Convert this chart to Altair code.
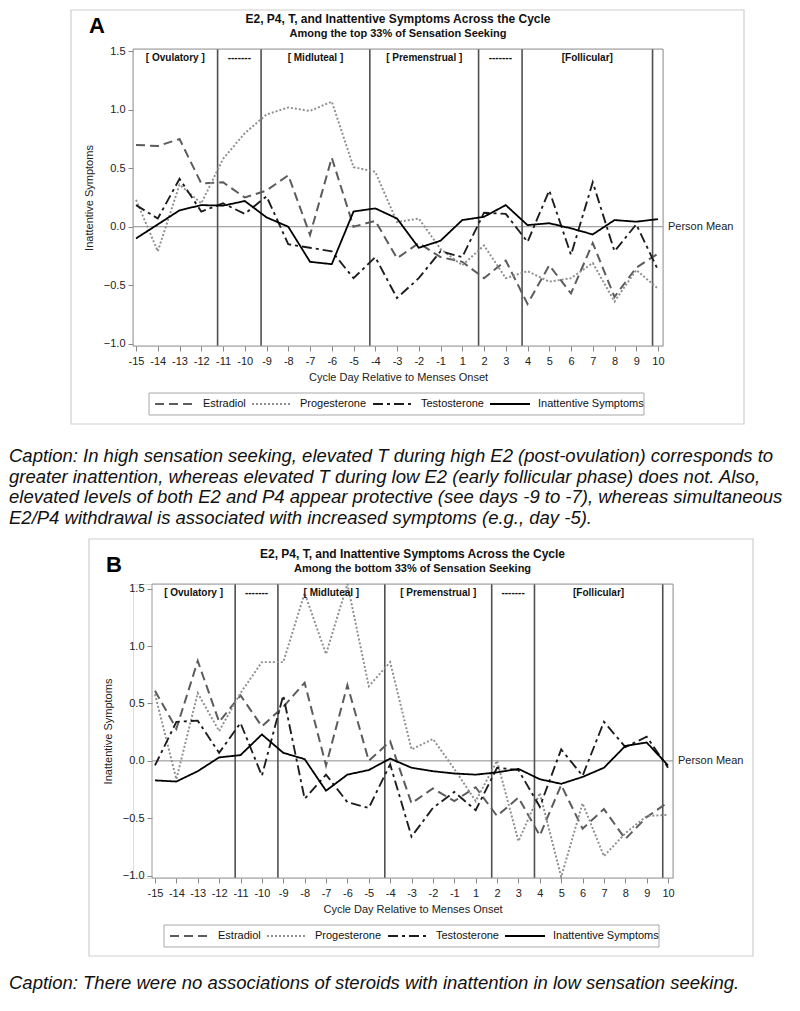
import altair as alt
import pandas as pd

# ---------------- data ----------------
days = [-15, -14, -13, -12, -11, -10, -9, -8, -7, -6, -5, -4, -3, -2, -1,
        1, 2, 3, 4, 5, 6, 7, 8, 9, 10]
series_names = ["Estradiol", "Progesterone", "Testosterone", "Inattentive Symptoms"]

# Panel A: top 33% of sensation seeking
a_estradiol = [0.70, 0.69, 0.75, 0.37, 0.38, 0.25, 0.31, 0.44, -0.07, 0.59, 0.00, 0.05, -0.27,
               -0.14, -0.26, -0.30, -0.44, -0.29, -0.66, -0.33, -0.57, -0.14, -0.60, -0.35, -0.23]
a_progesterone = [0.23, -0.21, 0.36, 0.20, 0.58, 0.80, 0.96, 1.02, 0.99, 1.07, 0.51, 0.47, 0.04,
                  0.07, -0.19, -0.33, -0.16, -0.44, -0.38, -0.47, -0.44, -0.31, -0.64, -0.37, -0.53]
a_testosterone = [0.185, 0.07, 0.41, 0.13, 0.20, 0.11, 0.26, -0.15, -0.18, -0.21, -0.44, -0.26, -0.61,
                  -0.44, -0.21, -0.26, 0.12, 0.11, -0.13, 0.31, -0.24, 0.38, -0.21, 0.02, -0.37]
a_inattentive = [-0.10, 0.02, 0.14, 0.185, 0.18, 0.22, 0.08, 0.00, -0.30, -0.32, 0.13, 0.157, 0.07,
                 -0.18, -0.12, 0.057, 0.085, 0.185, 0.014, 0.03, -0.014, -0.066, 0.057, 0.043, 0.065]

# Panel B: bottom 33% of sensation seeking
b_estradiol = [0.61, 0.28, 0.87, 0.34, 0.57, 0.30, 0.47, 0.68, -0.04, 0.66, 0.00, 0.17, -0.37,
               -0.24, -0.35, -0.23, -0.48, -0.32, -0.65, -0.21, -0.59, -0.42, -0.68, -0.49, -0.36]
b_progesterone = [0.58, -0.16, 0.59, 0.26, 0.59, 0.86, 0.86, 1.46, 0.93, 1.54, 0.65, 0.86, 0.10,
                  0.19, -0.07, -0.35, 0.00, -0.70, -0.28, -1.01, -0.37, -0.83, -0.63, -0.48, -0.47]
b_testosterone = [-0.04, 0.34, 0.35, 0.07, 0.33, -0.13, 0.57, -0.33, -0.12, -0.36, -0.41, -0.03, -0.66,
                  -0.41, -0.27, -0.43, -0.06, -0.08, -0.40, 0.10, -0.13, 0.34, 0.12, 0.21, -0.06]
b_inattentive = [-0.17, -0.18, -0.09, 0.03, 0.05, 0.23, 0.07, 0.015, -0.26, -0.12, -0.08, 0.02, -0.06,
                 -0.09, -0.11, -0.12, -0.10, -0.07, -0.16, -0.20, -0.14, -0.06, 0.13, 0.16, -0.04]

# phase boundaries (in day-index units) and labels
phase_bounds = [3.75, 5.75, 10.75, 15.75, 17.75, 23.75]
phase_names = ["[ Ovulatory ]", "-------", "[ Midluteal ]", "[ Premenstrual ]", "-------", "[Follicular]"]
y_ticks = [-1.0, -0.5, 0.0, 0.5, 1.0, 1.5]

title_main = "E2, P4, T, and Inattentive Symptoms Across the Cycle"
subtitle_a = "Among the top 33% of Sensation Seeking"
subtitle_b = "Among the bottom 33% of Sensation Seeking"
caption_a = ("Caption: In high sensation seeking, elevated T during high E2 (post-ovulation) corresponds to\n"
             "greater inattention, whereas elevated T during low E2 (early follicular phase) does not. Also,\n"
             "elevated levels of both E2 and P4 appear protective (see days -9 to -7), whereas simultaneous\n"
             "E2/P4 withdrawal is associated with increased symptoms (e.g., day -5).")
caption_b = "Caption: There were no associations of steroids with inattention in low sensation seeking."

# ---------------- styling ----------------
FONT = "Liberation Sans"
line_colors = ["#5c5c5c", "#8e8e8e", "#1c1c1c", "#000000"]
line_dashes = [[9, 5], [2, 2], [10, 4, 3, 4], [1, 0]]
line_widths = [2.0, 1.8, 2.0, 2.3]
X_DOMAIN = [-0.14, 24.23]
ORIGIN_X = 132          # common page x of the concat column origin


def long_df(e2, p4, t, ia):
    rows = []
    for name, vals in zip(series_names, [e2, p4, t, ia]):
        for i, (d, v) in enumerate(zip(days, vals)):
            rows.append({"idx": i, "day": d, "series": name, "value": v})
    return pd.DataFrame(rows)


label_expr = "[" + ",".join("'%d'" % d for d in days) + "][datum.value]"


def deco_rect(x1, y1, x2, y2, **kw):
    return alt.Chart(pd.DataFrame({"k": [0]})).mark_rect(**kw).encode(
        x=alt.value(x1), x2=alt.value(x2), y=alt.value(y1), y2=alt.value(y2))


def panel(letter, subtitle, df, caption, *, PL, PT, w, h, ydom, letter_dx, letter_base,
          box, legend_box, legend_start, legend_center, caption_top, bottom_extend=None):
    dx = PL - ORIGIN_X
    xscale = alt.Scale(domain=X_DOMAIN, range=[dx, dx + w], nice=False, zero=False)
    yscale = alt.Scale(domain=ydom, nice=False, zero=False)
    xaxis = alt.Axis(values=list(range(len(days))), labelExpr=label_expr,
                     title="Cycle Day Relative to Menses Onset", titleFont=FONT,
                     titleFontSize=11, titleFontWeight="normal", titleColor="#222",
                     titlePadding=5, titleX=dx + w / 2, labelFont=FONT, labelFontSize=11,
                     labelColor="#222", labelPadding=4, tickSize=5, tickColor="#888",
                     domain=False, grid=False, labelOverlap=False, labelFlush=False)
    yaxis = alt.Axis(values=y_ticks, format=".1f", title="Inattentive Symptoms",
                     titleFont=FONT, titleFontSize=11, titleFontWeight="normal",
                     titleColor="#222", titlePadding=9, labelFont=FONT, labelFontSize=11,
                     labelColor="#222", labelPadding=3, tickSize=5, tickColor="#888",
                     domain=False, grid=False, offset=-dx)

    def X(f):
        return alt.X(f, type="quantitative", scale=xscale, axis=xaxis)

    def Y(f):
        return alt.Y(f, type="quantitative", scale=yscale, axis=yaxis)

    leg = alt.Legend(orient="none", legendX=legend_start - ORIGIN_X,
                     legendY=legend_center - 21 - PT,
                     direction="horizontal", title=None, symbolType="stroke",
                     symbolSize=1600, labelFont=FONT, labelFontSize=11, labelColor="#111",
                     padding=0, columnPadding=2, labelOffset=7)

    lines = alt.Chart(df).mark_line(strokeCap="butt").encode(
        x=X("idx"), y=Y("value"),
        color=alt.Color("series:N", scale=alt.Scale(domain=series_names, range=line_colors), legend=leg),
        strokeDash=alt.StrokeDash("series:N", scale=alt.Scale(domain=series_names, range=line_dashes), legend=leg),
        strokeWidth=alt.StrokeWidth("series:N", scale=alt.Scale(domain=series_names, range=line_widths), legend=leg),
        order=alt.Order("idx:Q"),
    )

    bounds_df = pd.DataFrame({"b": phase_bounds})
    vrules = alt.Chart(bounds_df).mark_rule(color="#505050", strokeWidth=1.6).encode(x=X("b"))

    zero_df = pd.DataFrame({"v": [0.0], "label": ["Person Mean"]})
    zero_rule = alt.Chart(zero_df).mark_rule(color="#8c8c8c", strokeWidth=1).encode(
        y=Y("v"), x=alt.value(dx), x2=alt.value(dx + w))
    person_mean = alt.Chart(zero_df).mark_text(
        align="left", baseline="middle", font=FONT, fontSize=11, color="#222"
    ).encode(y=Y("v"), x=alt.value(dx + w + 5), text="label:N")

    edges = [X_DOMAIN[0]] + phase_bounds
    centers = [(edges[i] + edges[i + 1]) / 2 for i in range(len(phase_names))]
    phase_df = pd.DataFrame({"c": centers, "name": phase_names})
    phase_text = alt.Chart(phase_df).mark_text(
        align="center", baseline="middle", font=FONT, fontSize=10, fontWeight="bold", color="#111"
    ).encode(x=X("c"), y=alt.value(9), text="name:N")

    title_text = alt.Chart(pd.DataFrame({"t": [title_main]})).mark_text(
        align="center", baseline="middle", font=FONT, fontSize=12, fontWeight="bold", color="#111"
    ).encode(x=alt.value(dx + w / 2), y=alt.value(-30), text="t:N")
    sub_text = alt.Chart(pd.DataFrame({"t": [subtitle]})).mark_text(
        align="center", baseline="middle", font=FONT, fontSize=11, fontWeight="bold", color="#111"
    ).encode(x=alt.value(dx + w / 2), y=alt.value(-15), text="t:N")

    letter_text = alt.Chart(pd.DataFrame({"t": [letter]})).mark_text(
        align="left", baseline="alphabetic", font=FONT, fontSize=22, fontWeight="bold", color="#000"
    ).encode(x=alt.value(dx + letter_dx), y=alt.value(letter_base), text="t:N")

    box_rect = deco_rect(box[0] - ORIGIN_X, box[1] - PT, box[2] - ORIGIN_X, box[3] - PT,
                         fill="white", fillOpacity=0, stroke="#cfcfcf", strokeWidth=1.2)
    frame = deco_rect(dx, 0, dx + w, h, fill="white", fillOpacity=0,
                      stroke="#9a9a9a", strokeWidth=1)
    legend_frame = deco_rect(legend_box[0] - ORIGIN_X, legend_box[1] - PT,
                             legend_box[2] - ORIGIN_X, legend_box[3] - PT,
                             fill="white", fillOpacity=0, stroke="#a8a8a8", strokeWidth=1)

    cap = alt.Chart(pd.DataFrame({"t": [caption]})).mark_text(
        align="left", baseline="top", font=FONT, fontSize=18.5, fontStyle="italic",
        color="#111", lineBreak="\n", lineHeight=20.5
    ).encode(x=alt.value(8 - ORIGIN_X), y=alt.value(caption_top - PT), text="t:N")

    layers = []
    if bottom_extend is not None:
        layers.append(deco_rect(8 - ORIGIN_X, 0, 9 - ORIGIN_X, bottom_extend - PT,
                                fill="white", stroke=None))
    layers += [box_rect, legend_frame, zero_rule, vrules, frame, lines, phase_text,
               person_mean, title_text, sub_text, letter_text, cap]

    return alt.layer(*layers).properties(width=dx + w, height=h)


chart_a = panel("A", subtitle_a, long_df(a_estradiol, a_progesterone, a_testosterone, a_inattentive),
                caption_a, PL=132, PT=47, w=530, h=297, ydom=[-1.02, 1.52],
                letter_dx=-44, letter_base=-16,
                box=(70, 8, 743, 422), legend_box=(148, 391, 643, 413),
                legend_start=153, legend_center=402,
                caption_top=445, bottom_extend=534)
chart_b = panel("B", subtitle_b, long_df(b_estradiol, b_progesterone, b_testosterone, b_inattentive),
                caption_b, PL=151, PT=585, w=521, h=294, ydom=[-1.02, 1.54],
                letter_dx=-46, letter_base=-12,
                box=(88, 540, 752, 957), legend_box=(163, 926, 658, 948),
                legend_start=168, legend_center=937,
                caption_top=975)

chart = alt.vconcat(chart_a, chart_b, spacing=0).resolve_scale(
    color="independent", strokeDash="independent", strokeWidth="independent"
).resolve_legend(
    color="independent", strokeDash="independent", strokeWidth="independent"
).properties(
    padding={"left": 0, "top": 0, "right": 0, "bottom": 0}
).configure_view(stroke=None).configure(background="white")

chart.save("out.html", embed_options={"renderer": "svg", "actions": False})
